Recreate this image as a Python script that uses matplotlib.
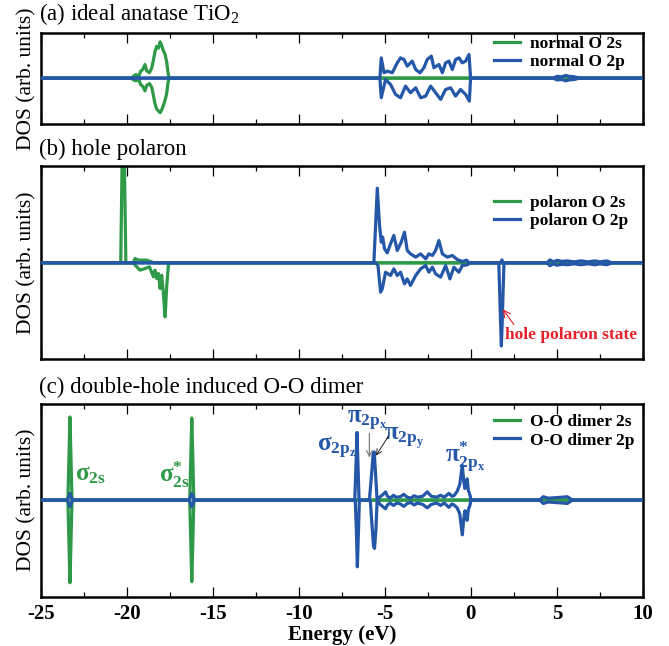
import matplotlib
matplotlib.use("Agg")
import matplotlib.pyplot as plt
from matplotlib.ticker import MultipleLocator

plt.rcParams['font.family'] = ['Liberation Serif', 'DejaVu Serif']
plt.rcParams['mathtext.fontset'] = 'custom'
plt.rcParams['mathtext.rm'] = 'Liberation Serif'
plt.rcParams['mathtext.it'] = 'Liberation Serif:italic'
plt.rcParams['mathtext.bf'] = 'Liberation Serif:bold'
plt.rcParams['axes.unicode_minus'] = False

GREEN = '#2e9a48'
BLUE = '#2557a8'
RED = '#e8202a'

# ---------------- data (energies in eV, DOS in arb. units) ----------------
# (a) ideal anatase TiO2
a_s_up_E = [-25, -19.70, -19.62, -19.46, -19.32, -19.19, -19.07, -18.94, -18.84, -18.68, -18.55, -18.45,
            -18.36, -18.26, -18.16, -18.06, -17.97, -17.87, -17.77, -17.68, -17.60, -17.54, 10]
a_s_up_V = [0, 0, 0.2, 0.4, 0.05, 0.77, 0.95, 1.5, 0.8, 0.6, 1.1, 2.0,
            2.9, 3.5, 3.3, 4.0, 3.6, 3.0, 2.6, 1.8, 0.6, 0, 0]
a_s_dn_E = a_s_up_E
a_s_dn_V = [0, 0, -0.2, -0.3, -0.1, -0.7, -0.9, -1.4, -0.8, -0.6, -1.0, -1.9,
            -2.8, -3.4, -3.6, -3.8, -3.5, -3.0, -2.4, -1.7, -0.5, 0, 0]

a_p_up_E = [-25, -5.29, -5.21, -5.05, -4.86, -4.57, -4.28, -4.09, -3.89, -3.70, -3.41, -3.21,
            -2.96, -2.73, -2.54, -2.30, -2.15, -1.86, -1.66, -1.47, -1.28, -1.08, -0.89,
            -0.69, -0.50, -0.31, -0.11, -0.02,
            4.8, 5.0, 5.3, 5.5, 5.7, 6.0, 6.3, 10]
a_p_up_V = [0, 0, 2.23, 0.59, 0.77, 0.59, 1.68, 2.23, 2.05, 1.32, 1.87, 0.95,
            0.59, 1.14, 2.05, 2.42, 1.14, 1.50, 0.59, 1.68, 1.87, 0.95, 2.05,
            2.23, 1.68, 1.87, 2.60, 0,
            0, 0.2, 0.15, 0.3, 0.2, 0.15, 0, 0]
a_p_dn_E = [-25, -5.29, -5.21, -4.96, -4.67, -4.38, -4.09, -3.80, -3.51, -3.21, -2.92, -2.63,
            -2.34, -2.05, -1.76, -1.47, -1.18, -0.89, -0.60, -0.31, -0.09, -0.02,
            4.8, 5.0, 5.3, 5.5, 5.7, 6.0, 6.3, 10]
a_p_dn_V = [0, 0, -2.16, -0.15, -0.70, -1.79, -2.16, -0.88, -1.61, -1.06, -2.16, -1.98,
            -0.88, -1.61, -2.34, -1.25, -1.06, -1.98, -1.25, -1.79, -2.53, 0,
            0, -0.2, -0.15, -0.3, -0.2, -0.15, 0, 0]

# (b) hole polaron
b_s_up_E = [-25, -20.35, -20.25, -20.16, -20.05, -19.62, -19.52, -19.33, -19.07, -18.84, -18.55, -18.45, 10]
b_s_up_V = [0, 0, 13, 13, 0, 0, 0.45, 0.28, 0.28, 0.28, 0.10, 0, 0]
b_s_dn_E = [-25, -19.62, -19.42, -19.23, -18.94, -18.68, -18.45, -18.36, -18.26, -18.16,
            -18.06, -17.97, -17.87, -17.77, -17.68, -17.58, -17.52, 10]
b_s_dn_V = [0, 0, -0.41, -0.76, -0.59, -0.41, -1.45, -0.76, -1.62, -1.10,
            -2.66, -1.28, -3.17, -5.59, -2.48, -0.24, 0, 0]

b_p_up_E = [-25, -5.64, -5.44, -5.31, -5.21, -5.13, -5.02, -4.86, -4.71, -4.48, -4.28, -4.05,
            -3.86, -3.70, -3.51, -3.21, -2.92, -2.63, -2.44, -2.24, -2.05, -1.86, -1.66,
            -1.37, -1.08, -0.79, -0.50, -0.25, -0.11,
            1.75, 1.80, 1.85,
            4.4, 4.6, 4.8, 5.0, 5.3, 5.6, 6.0, 6.4, 6.8, 7.2, 7.5, 7.9, 8.2, 10]
b_p_up_V = [0, 0, 7.72, 3.86, 2.14, 2.66, 1.45, 1.03, 1.79, 2.83, 1.28, 2.14,
            3.17, 1.28, 0.93, 0.59, 0.93, 0.41, 0.93, 0.76, 1.28, 2.31, 0.93,
            0.59, 0.76, 0.34, 0.14, 0.28, 0,
            0, 0.3, 0,
            0, 0.3, 0.1, 0.25, 0.15, 0.2, 0.1, 0.2, 0.1, 0.2, 0.1, 0.2, 0, 0]
b_p_dn_E = [-25, -5.54, -5.40, -5.25, -5.15, -4.96, -4.67, -4.48, -4.28, -4.09, -3.86, -3.70,
            -3.51, -3.21, -2.92, -2.63, -2.44, -2.24, -2.05, -1.76, -1.47, -1.22, -0.99,
            -0.70, -0.50, -0.21, -0.06,
            1.62, 1.72, 1.77, 1.82, 1.92,
            4.4, 4.6, 4.8, 5.0, 5.3, 5.6, 6.0, 6.4, 6.8, 7.2, 7.5, 7.9, 8.2, 10]
b_p_dn_V = [0, 0, -0.28, -3.03, -2.69, -0.97, -1.31, -0.62, -1.31, -0.97, -2.17, -1.66,
            -2.34, -1.31, -0.62, -0.28, -0.97, -0.45, -1.14, -1.48, -0.28, -1.66, -0.45,
            -0.97, -0.28, -0.21, 0,
            0, -6.0, -8.6, -6.0, 0,
            0, -0.3, -0.1, -0.25, -0.15, -0.2, -0.1, -0.2, -0.1, -0.2, -0.1, -0.2, 0, 0]

# (c) double-hole induced O-O dimer
c_s_up_E = [-25, -23.42, -23.35, -23.30, -23.25, -23.18, -16.34, -16.27, -16.22, -16.17, -16.10, 10]
c_s_up_V = [0, 0, 5.0, 8.6, 5.0, 0, 0, 5.0, 8.5, 5.0, 0, 0]
c_s_dn_E = c_s_up_E
c_s_dn_V = [0, 0, -5.0, -8.55, -5.0, 0, 0, -5.0, -8.45, -5.0, 0, 0]

c_p_up_E = [-25, -23.45, -23.30, -23.15, -16.37, -16.22, -16.07,
            -6.75, -6.68, -6.62, -6.56, -6.50,
            -5.90, -5.78, -5.68, -5.62, -5.55, -5.45, -5.30, -5.10, -4.96, -4.85, -4.70,
            -4.50, -4.35, -4.10, -3.90, -3.70, -3.50, -3.30, -3.10, -2.80, -2.54, -2.30,
            -2.00, -1.76, -1.55, -1.28, -1.10, -0.99, -0.80, -0.65, -0.50, -0.42, -0.35,
            -0.28, -0.22, -0.15, -0.05, 0.0,
            4.0, 4.2, 4.5, 4.9, 5.3, 5.6, 5.9, 10]
c_p_up_V = [0, 0, 0.7, 0, 0, 0.7, 0,
            0, 3.5, 7.0, 3.5, 0,
            0, 2.5, 4.8, 5.0, 3.0, 0, 0.3, 0.6, 0.85, 0.4, 0.2,
            0.5, 0.3, 0.35, 0.6, 0.3, 0.2, 0.45, 0.3, 0.4, 0.85, 0.4,
            0.3, 0.5, 0.3, 0.7, 0.4, 0.45, 0.9, 1.6, 3.6, 2.0, 1.2,
            1.8, 2.2, 1.0, 0.5, 0,
            0, 0.35, 0.2, 0.25, 0.3, 0.35, 0, 0]
c_p_dn_E = [-25, -23.45, -23.30, -23.15, -16.37, -16.22, -16.07,
            -6.72, -6.65, -6.60, -6.54, -6.48,
            -5.85, -5.75, -5.66, -5.60, -5.52, -5.45, -5.30, -5.10, -4.96, -4.85, -4.70,
            -4.50, -4.30, -4.10, -3.90, -3.70, -3.50, -3.30, -3.10, -2.80, -2.54, -2.30,
            -2.00, -1.76, -1.55, -1.28, -1.10, -0.99, -0.80, -0.65, -0.50, -0.42, -0.35,
            -0.28, -0.22, -0.15, -0.05, 0.0,
            4.0, 4.2, 4.5, 4.9, 5.3, 5.6, 5.9, 10]
c_p_dn_V = [0, 0, -0.7, 0, 0, -0.7, 0,
            0, -3.5, -6.9, -3.5, 0,
            0, -2.5, -4.8, -5.0, -3.0, 0, -0.4, -0.7, -0.9, -0.5, -0.3,
            -0.55, -0.3, -0.4, -0.65, -0.35, -0.25, -0.5, -0.3, -0.45, -0.8, -0.45,
            -0.3, -0.55, -0.3, -0.75, -0.4, -0.5, -0.8, -1.4, -3.6, -2.0, -1.1,
            -1.6, -2.1, -1.0, -0.5, 0,
            0, -0.35, -0.2, -0.25, -0.3, -0.35, 0, 0]

titles = ['(a) ideal anatase TiO$_2$', '(b) hole polaron', '(c) double-hole induced O-O dimer']
legend_labels = [('normal O 2s', 'normal O 2p'),
                 ('polaron O 2s', 'polaron O 2p'),
                 ('O-O dimer 2s', 'O-O dimer 2p')]
xticks = [-25, -20, -15, -10, -5, 0, 5, 10]

# ---------------- figure ----------------
fig = plt.figure(figsize=(6.69, 6.46), dpi=100)
W, H = 669.0, 646.0
left, right = 40.7, 643.0
boxes = [(32.7, 124.0), (165.7, 359.0), (403.5, 596.7)]
ylims = [(-5.05, 5.0), (-9.95, 10.05), (-10.0, 10.0)]
leg_y = [0.965, 0.85, 0.945]

series = [
    (a_s_up_E, a_s_up_V, a_s_dn_E, a_s_dn_V, a_p_up_E, a_p_up_V, a_p_dn_E, a_p_dn_V),
    (b_s_up_E, b_s_up_V, b_s_dn_E, b_s_dn_V, b_p_up_E, b_p_up_V, b_p_dn_E, b_p_dn_V),
    (c_s_up_E, c_s_up_V, c_s_dn_E, c_s_dn_V, c_p_up_E, c_p_up_V, c_p_dn_E, c_p_dn_V),
]

LW = 2.3
axes = []
for i, (top, bot) in enumerate(boxes):
    ax = fig.add_axes([left / W, 1 - bot / H, (right - left) / W, (bot - top) / H])
    axes.append(ax)
    sE, sV, sdE, sdV, pE, pV, pdE, pdV = series[i]
    l1, = ax.plot(sE, sV, color=GREEN, lw=LW, zorder=2, label=legend_labels[i][0])
    ax.plot(sdE, sdV, color=GREEN, lw=LW, zorder=2)
    l2, = ax.plot(pE, pV, color=BLUE, lw=LW, zorder=3, label=legend_labels[i][1])
    ax.plot(pdE, pdV, color=BLUE, lw=LW, zorder=3)
    ax.set_xlim(-25, 10)
    ax.set_ylim(*ylims[i])
    ax.set_xticks(xticks)
    ax.xaxis.set_minor_locator(MultipleLocator(2.5))
    ax.tick_params(axis='x', which='major', direction='in', top=True, bottom=True,
                   length=7, width=0.9, labelsize=15, pad=5)
    ax.tick_params(axis='x', which='minor', direction='in', top=True, bottom=True,
                   length=3.8, width=0.9)
    ax.set_yticks([])
    for sp in ax.spines.values():
        sp.set_linewidth(1.8)
    if i < 2:
        ax.set_xticklabels([])
    else:
        ax.set_xticklabels([str(t) for t in xticks], fontweight='bold')
    ax.set_ylabel('DOS (arb. units)', fontsize=15.5)
    ax.yaxis.set_label_coords(-0.007, 0.5)
    ax.annotate(titles[i], xy=(0, 1), xycoords='axes fraction', xytext=(-1, 4),
                textcoords='offset points', ha='left', va='bottom', fontsize=16.5)
    ax.legend(handles=[l1, l2], loc='upper left', bbox_to_anchor=(0.752, leg_y[i]),
              frameon=False, borderpad=0, borderaxespad=0, handlelength=1.5,
              handletextpad=0.6, labelspacing=0.12,
              prop={'family': 'Liberation Serif', 'weight': 'bold', 'size': 12.5})

# x label
axes[2].set_xlabel('Energy (eV)', fontsize=15, fontweight='bold', labelpad=1)

# (b) hole polaron state annotation
axb = axes[1]
axb.annotate('hole polaron state', xy=(1.85, -4.8), xytext=(2.0, -7.5),
             color=RED, fontsize=12.5, fontweight='bold', ha='left', va='center',
             arrowprops=dict(arrowstyle='->', color=RED, lw=0.8, shrinkA=0, shrinkB=0,
                             relpos=(0.08, 1.0)))

# (c) orbital labels
axc = axes[2]
lab_kw = dict(fontsize=18, ha='center', va='center')
axc.text(-22.1, 2.6, r'$\mathbf{σ}_{\mathbf{2s}}$', color=GREEN, **lab_kw)
axc.text(-17.2, 2.6, r'$\mathbf{σ}^{\mathbf{*}}_{\mathbf{2s}}$', color=GREEN, **lab_kw)
axc.text(-7.8, 5.4, r'$\mathbf{σ}_{\mathbf{2p}_{\mathbf{z}}}$', color=BLUE, **lab_kw)
axc.text(-6.0, 8.2, r'$\mathbf{π}_{\mathbf{2p}_{\mathbf{x}}}$', color=BLUE, **lab_kw)
axc.text(-3.85, 6.4, r'$\mathbf{π}_{\mathbf{2p}_{\mathbf{y}}}$', color=BLUE, **lab_kw)
axc.text(-0.3, 4.4, r'$\mathbf{π}^{\mathbf{*}}_{\mathbf{2p}_{\mathbf{x}}}$', color=BLUE, **lab_kw)
axc.annotate('', xy=(-5.9, 4.4), xytext=(-5.9, 6.9),
             arrowprops=dict(arrowstyle='->', color='#808080', lw=0.9, shrinkA=0, shrinkB=0))
axc.annotate('', xy=(-5.52, 4.6), xytext=(-4.8, 6.6),
             arrowprops=dict(arrowstyle='->', color='#222222', lw=0.7, shrinkA=0, shrinkB=0))

fig.savefig('out.png', dpi=100)
